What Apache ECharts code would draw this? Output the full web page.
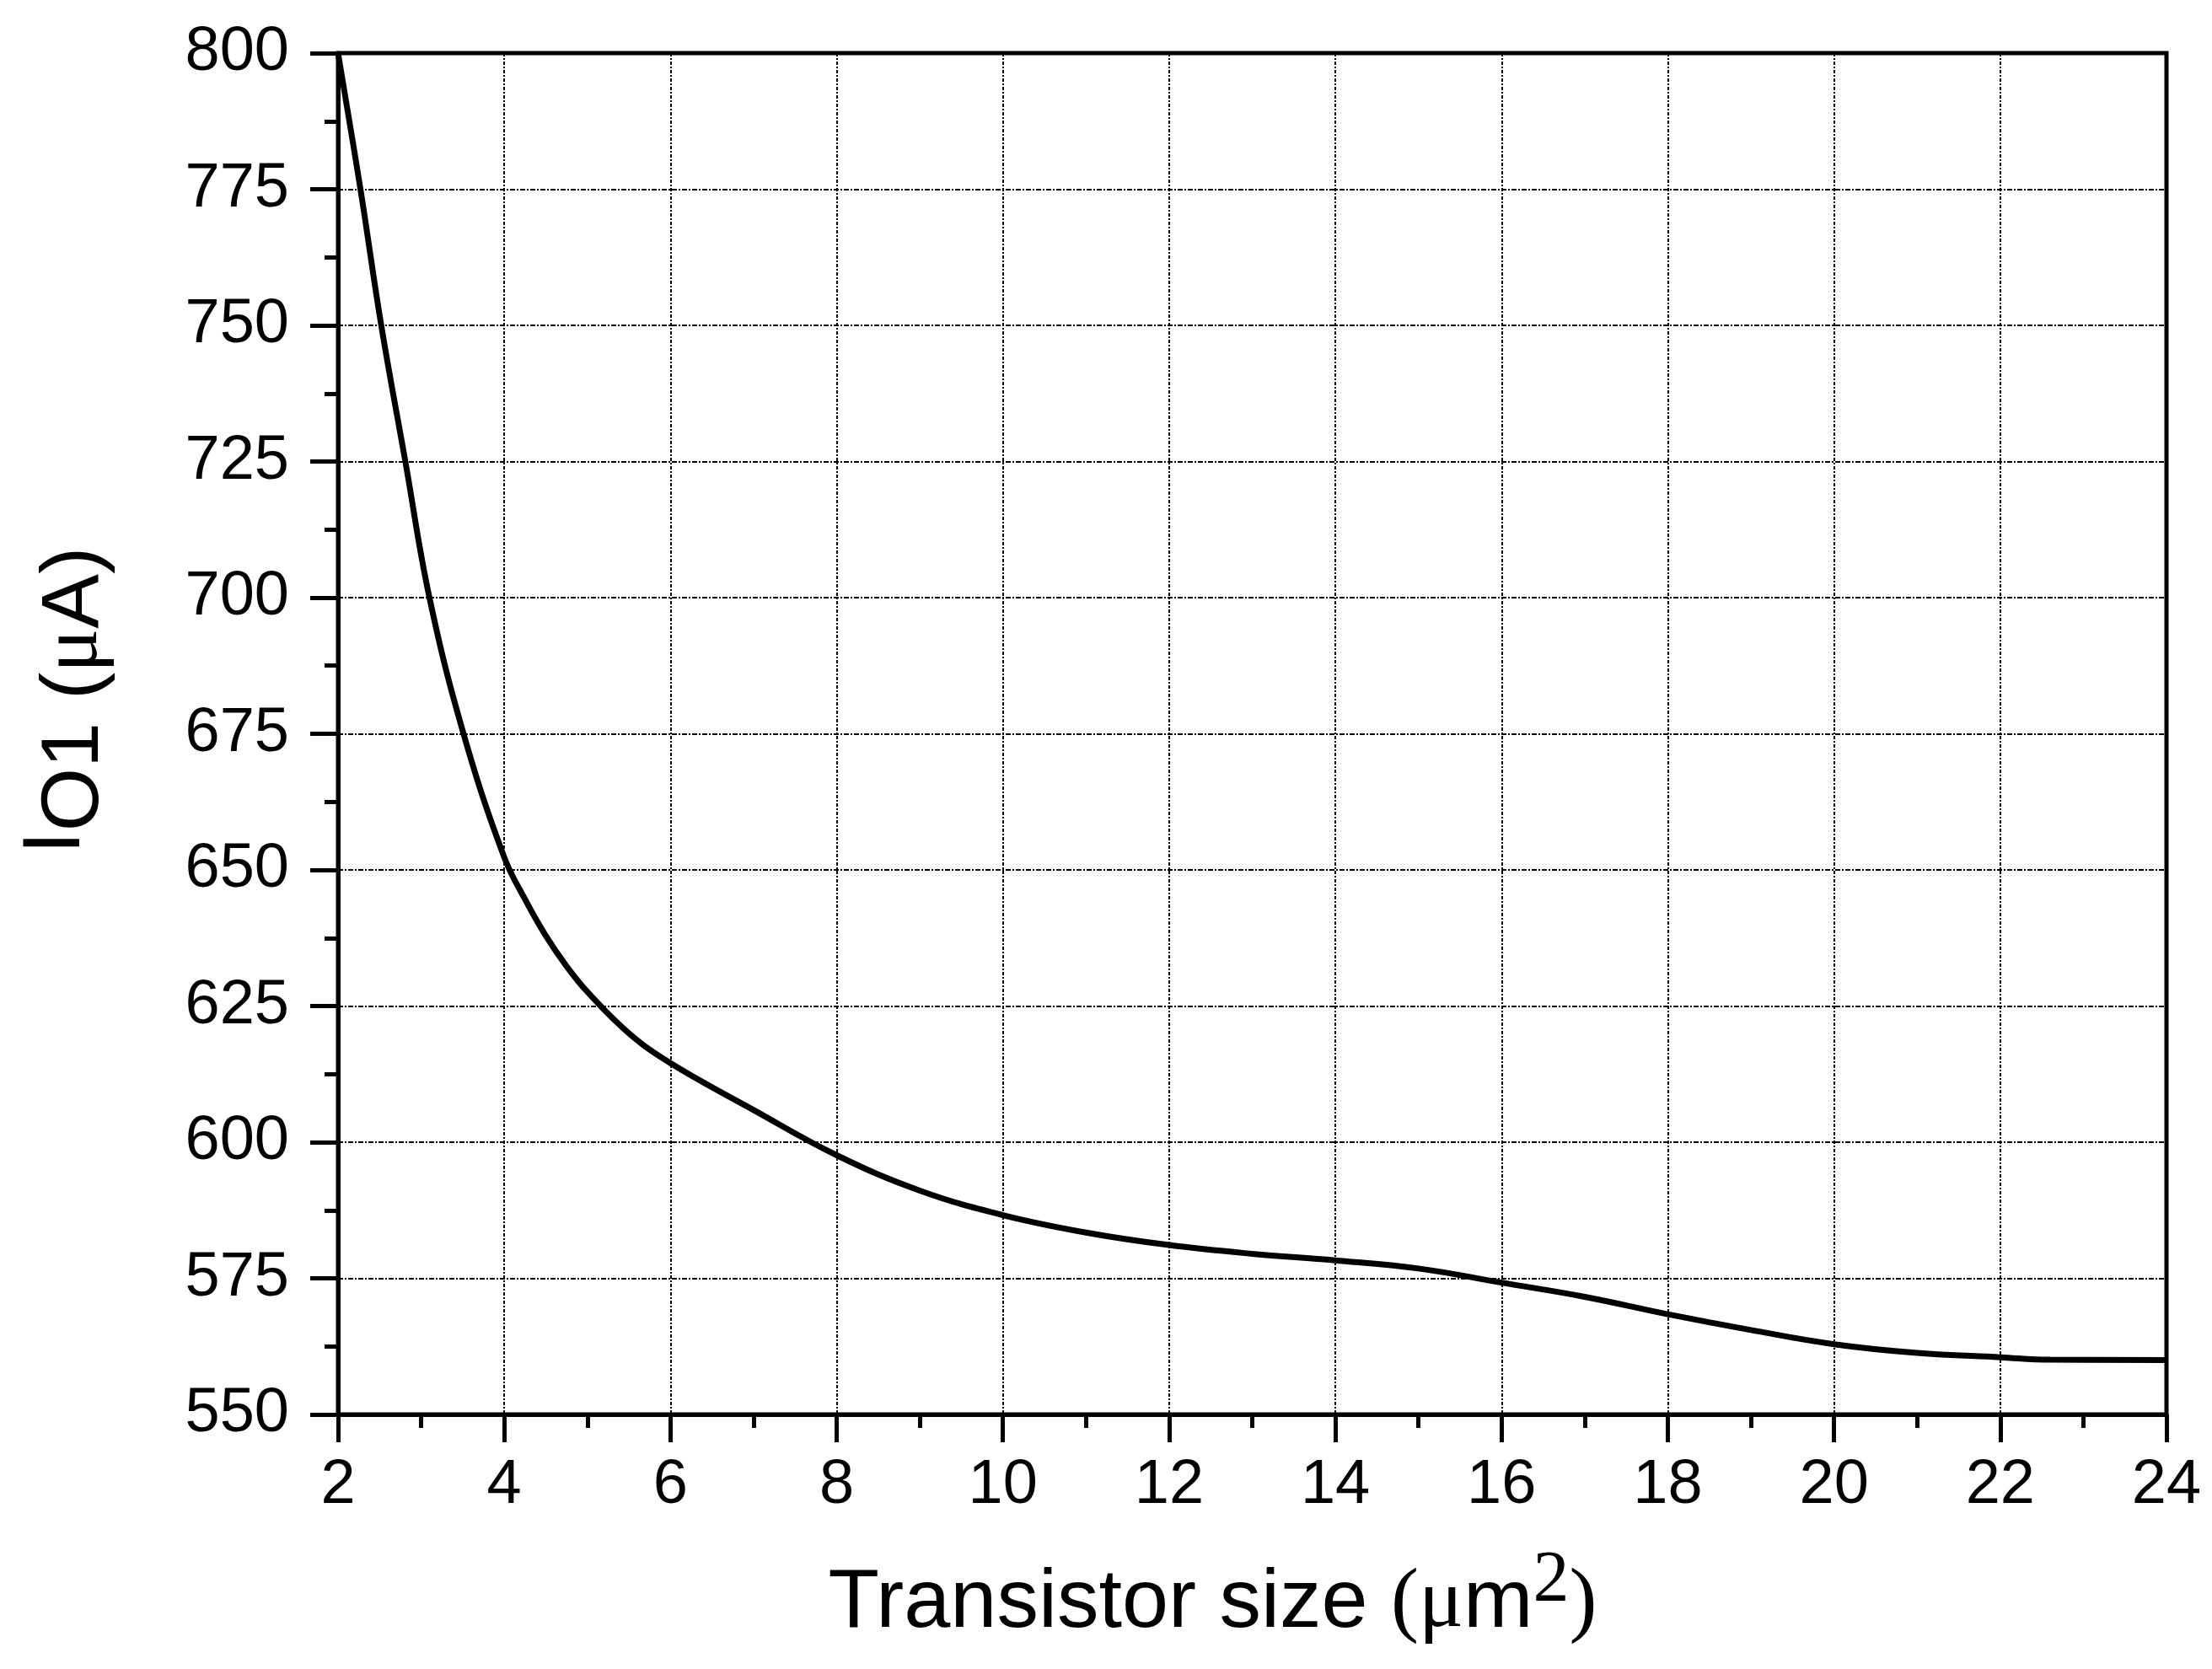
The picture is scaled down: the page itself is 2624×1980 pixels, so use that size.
<!DOCTYPE html>
<html>
<head>
<meta charset="utf-8">
<script src="https://cdn.jsdelivr.net/npm/echarts@6/dist/echarts.min.js"></script>
<style>html,body{margin:0;padding:0;background:#fff;}#c{width:2624px;height:1980px;}</style>
</head>
<body>
<div id="c"></div>
<script>
// Transistor size (µm²)
const xValues = [2, 2.27, 2.52, 2.81, 3.1, 3.51, 4, 4.25, 4.5, 4.75, 5, 5.5, 6, 7, 8, 9, 10, 11, 12, 13, 14, 15, 16, 17, 18, 19, 20, 21, 22, 22.6, 24];
// I_O1 (µA)
const yValues = [800, 775, 750, 725, 700, 675, 652.3, 644.6, 637.9, 632.3, 627.6, 620, 614.5, 605.9, 597.6, 591.1, 586.6, 583.4, 581.1, 579.5, 578.3, 576.8, 574.2, 571.6, 568.4, 565.5, 562.9, 561.3, 560.5, 560.05, 560];
const xTicks = [2, 4, 6, 8, 10, 12, 14, 16, 18, 20, 22, 24];
const yTicks = [550, 575, 600, 625, 650, 675, 700, 725, 750, 775, 800];

const SANS = 'Liberation Sans, Arial, sans-serif';
const SERIF = 'Liberation Serif, Times New Roman, serif';

const chart = echarts.init(document.getElementById('c'), null, {renderer: 'canvas'});
chart.setOption({
  backgroundColor: '#fff',
  animation: false,
  grid: {
    left: 401, right: 54, top: 63, bottom: 302,
    show: true, borderColor: '#000', borderWidth: 5, backgroundColor: 'transparent'
  },
  xAxis: {
    type: 'value',
    min: xTicks[0], max: xTicks[xTicks.length - 1], interval: 2,
    axisLine: {show: true, onZero: false, lineStyle: {color: '#000', width: 5}},
    axisTick: {show: true, inside: false, length: 33, lineStyle: {color: '#000', width: 5}},
    minorTick: {show: true, splitNumber: 2, length: 16, lineStyle: {color: '#000', width: 5}},
    axisLabel: {color: '#000', fontSize: 74, fontFamily: SANS, margin: 48},
    splitLine: {show: true, lineStyle: {color: '#000', width: 2, type: [4, 2, 2, 2]}},
    name: '{t|Transistor size }{p|(μ}{m|m}{s|2}{p|)}',
    nameLocation: 'middle',
    nameGap: 155,
    nameTextStyle: {
      color: '#000',
      padding: [0, 94, 0, 0],
      rich: {
        t: {fontFamily: SANS, fontSize: 99, lineHeight: 140, color: '#000'},
        m: {fontFamily: SANS, fontSize: 99, lineHeight: 140, color: '#000'},
        p: {fontFamily: SERIF, fontSize: 99, lineHeight: 140, color: '#000'},
        s: {fontFamily: SERIF, fontSize: 86, lineHeight: 64, verticalAlign: 'top', color: '#000'}
      }
    }
  },
  yAxis: {
    type: 'value',
    min: yTicks[0], max: yTicks[yTicks.length - 1], interval: 25,
    axisLine: {show: true, onZero: false, lineStyle: {color: '#000', width: 5}},
    axisTick: {show: true, inside: false, length: 33, lineStyle: {color: '#000', width: 5}},
    minorTick: {show: true, splitNumber: 2, length: 16, lineStyle: {color: '#000', width: 5}},
    axisLabel: {color: '#000', fontSize: 74, fontFamily: SANS, margin: 58},
    splitLine: {show: true, lineStyle: {color: '#000', width: 2, type: [6, 2, 2, 2]}},
    name: '{i|I}{o|O1 (}{u|μ}{o|A)}',
    nameLocation: 'middle',
    nameRotate: 90,
    nameGap: 242,
    nameTextStyle: {
      color: '#000',
      padding: [0, 0, 0, 79],
      rich: {
        i: {fontFamily: SANS, fontSize: 97, lineHeight: 76, verticalAlign: 'top', color: '#000'},
        o: {fontFamily: SANS, fontSize: 97, lineHeight: 140, color: '#000'},
        u: {fontFamily: SERIF, fontSize: 97, lineHeight: 140, color: '#000'}
      }
    }
  },
  series: [{
    type: 'line',
    data: xValues.map((x, i) => [x, yValues[i]]),
    showSymbol: false,
    smooth: 0.4,
    clip: false,
    lineStyle: {color: '#000', width: 7}
  }]
});
</script>
</body>
</html>
